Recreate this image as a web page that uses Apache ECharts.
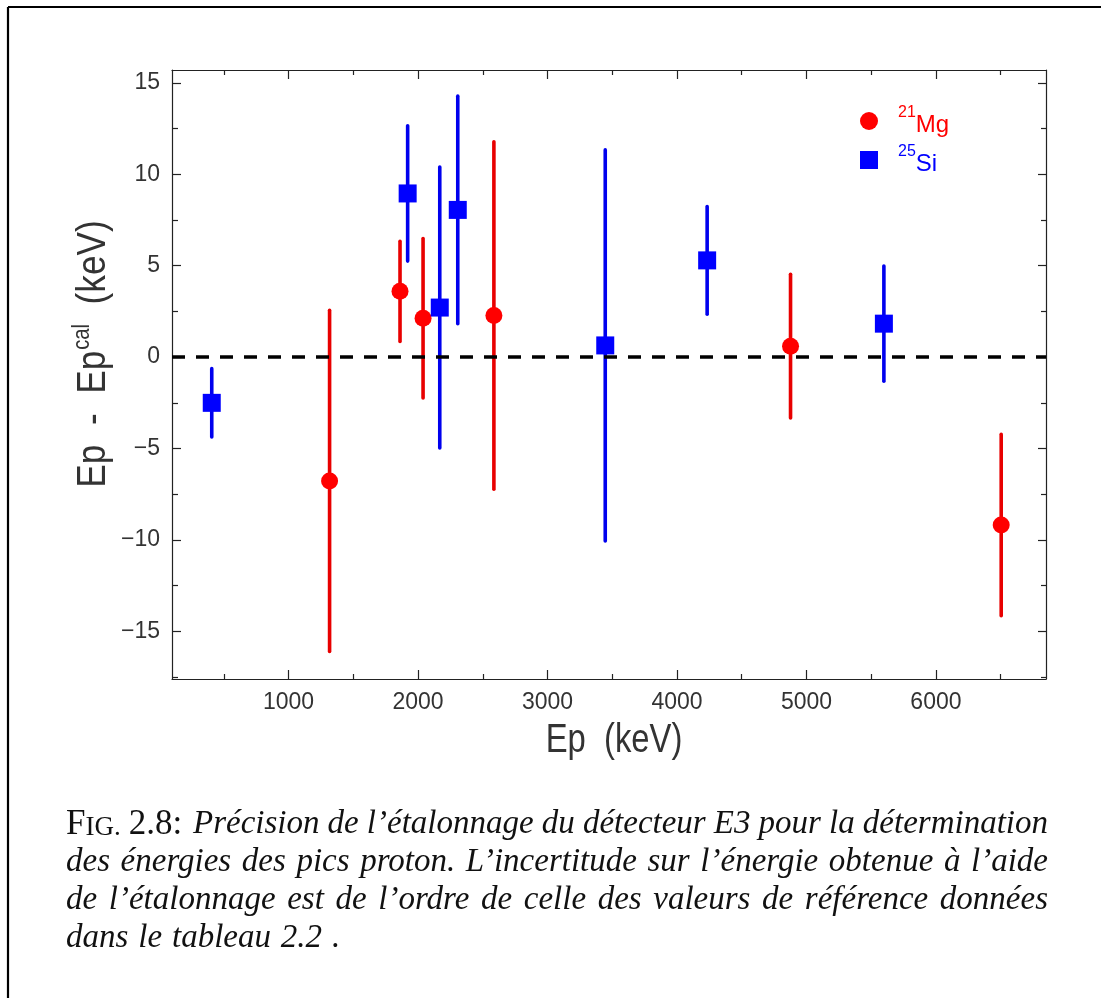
<!DOCTYPE html>
<html>
<head>
<meta charset="utf-8">
<script src="https://cdn.jsdelivr.net/npm/echarts@6/dist/echarts.min.js"></script>
<style>
html,body{margin:0;padding:0;background:#fff;}
#chart{width:1101px;height:998px;}
</style>
</head>
<body>
<div id="chart"></div>
<script>
// ---- data ----
const mgX   = [1317, 1861, 2039, 2586, 4877, 6504];
const mgY   = [-6.77, 3.60, 2.13, 2.28, 0.60, -9.18];
const mgErr = [9.33, 2.74, 4.36, 9.50, 3.93, 4.96];

const siX   = [407, 1920, 2168, 2307, 3446, 4233, 5598];
const siY   = [-2.50, 8.95, 2.71, 8.05, 0.64, 5.29, 1.83];
const siErr = [1.87, 3.70, 7.68, 6.22, 10.69, 2.94, 3.15];

const xMajorTicks = [1000, 2000, 3000, 4000, 5000, 6000];
const xMinorTicks = [500, 1500, 2500, 3500, 4500, 5500, 6500];
const yMajorTicks = [-15, -10, -5, 0, 5, 10, 15];
const yMinorTicks = [-17.5, -12.5, -7.5, -2.5, 2.5, 7.5, 12.5];

const xRange = [100, 6850];
const yRange = [-17.6, 15.7];

const captionPrefix = ['F', 'IG.', '2.8:'];
const captionLines = [
  "Précision de l’étalonnage du détecteur E3 pour la détermination",
  "des énergies des pics proton. L’incertitude sur l’énergie obtenue à l’aide",
  "de l’étalonnage est de l’ordre de celle des valeurs de référence données",
  "dans le tableau 2.2 ."
];

// ---- styling ----
const RED = '#ff0000', RED_BAR = '#e80000';
const BLUE = '#0000ff', BLUE_BAR = '#0000ee';
const AXIS_COL = '#222';
const LABEL_COL = '#333';
const SANS = '"Liberation Sans", Arial, sans-serif';
const SERIF = '"Liberation Serif", "DejaVu Serif", serif';

const chart = echarts.init(document.getElementById('chart'), null, {renderer: 'canvas'});

function errData(xs, ys, es) {
  return xs.map((x, i) => [x, ys[i] - es[i], ys[i] + es[i]]);
}
function ptData(xs, ys) {
  return xs.map((x, i) => [x, ys[i]]);
}
function errRender(color) {
  return function (params, api) {
    const p1 = api.coord([api.value(0), api.value(1)]);
    const p2 = api.coord([api.value(0), api.value(2)]);
    return {
      type: 'line',
      shape: {x1: p1[0], y1: p1[1], x2: p2[0], y2: p2[1]},
      style: {stroke: color, lineWidth: 3.6, lineCap: 'round'}
    };
  };
}

function xAxisDef(pos, ticks, len, withLabel, withLine) {
  return {
    type: 'value', gridIndex: 0, position: pos,
    min: xRange[0], max: xRange[1],
    axisLine: {show: withLine, onZero: false, lineStyle: {color: AXIS_COL, width: 1.2}},
    axisTick: {show: true, inside: true, length: len, customValues: ticks, lineStyle: {color: AXIS_COL, width: 1.2}},
    axisLabel: withLabel ? {show: true, customValues: ticks, margin: 12, fontSize: 23,
      fontFamily: SANS, color: LABEL_COL, formatter: v => String(v)} : {show: false},
    splitLine: {show: false}
  };
}
function yAxisDef(pos, ticks, len, withLabel, withLine) {
  return {
    type: 'value', gridIndex: 0, position: pos,
    min: yRange[0], max: yRange[1],
    axisLine: {show: withLine, onZero: false, lineStyle: {color: AXIS_COL, width: 1.2}},
    axisTick: {show: true, inside: true, length: len, customValues: ticks, lineStyle: {color: AXIS_COL, width: 1.2}},
    axisLabel: withLabel ? {show: true, customValues: ticks, margin: 12, fontSize: 23,
      fontFamily: SANS, color: LABEL_COL,
      formatter: v => String(v).replace('-', '\u2212')} : {show: false},
    splitLine: {show: false}
  };
}

// ---- caption graphics (justified) ----
const mctx = document.createElement('canvas').getContext('2d');
function textW(t, font) { mctx.font = font; return mctx.measureText(t).width; }
const CAP_SIZE = 33;
const fUp = `35px ${SERIF}`;
const fSc = `27px ${SERIF}`;
const fIt = `italic ${CAP_SIZE}px ${SERIF}`;
const capLeft = 66, capRight = 1048, capBase = 841, capStep = 38;
const CAP_COL = '#111';
const graphics = [];
function addText(t, x, y, font) {
  graphics.push({type: 'text', x: x, y: y, silent: true,
    style: {text: t, font: font, fill: CAP_COL, textAlign: 'left', textVerticalAlign: 'bottom'}});
}
(function buildCaption() {
  let x = capLeft;
  addText(captionPrefix[0], x, capBase + 1, fUp); x += textW(captionPrefix[0], fUp);
  addText(captionPrefix[1], x, capBase, fSc); x += textW(captionPrefix[1], fSc) + 8;
  addText(captionPrefix[2], x, capBase + 1, fUp); x += textW(captionPrefix[2], fUp) + 6;
  captionLines.forEach((line, li) => {
    const words = line.split(' ');
    const startX = li === 0 ? Math.max(x, 193) : capLeft;
    const ws = words.map(w => textW(w, fIt));
    const sum = ws.reduce((a, b) => a + b, 0);
    const last = li === captionLines.length - 1;
    const gap = last ? textW(' ', fIt) * 1.2 : (capRight - startX - sum) / (words.length - 1);
    let cx = startX;
    const by = capBase + li * capStep;
    words.forEach((w, i) => { addText(w, cx, by, fIt); cx += ws[i] + gap; });
  });
})();

// page frame
graphics.push({type: 'line', silent: true, shape: {x1: 8, y1: 7, x2: 1101, y2: 7}, style: {stroke: '#000', lineWidth: 2.2}});
graphics.push({type: 'line', silent: true, shape: {x1: 8, y1: 7, x2: 8, y2: 998}, style: {stroke: '#000', lineWidth: 2.2}});

// axis titles (narrow, tall lettering like the original plotting font)
graphics.push({type: 'text', x: 614, y: 741, scaleX: 0.82, silent: true,
  style: {text: 'Ep  (keV)', font: `40px ${SANS}`, fill: LABEL_COL, textAlign: 'center', textVerticalAlign: 'middle'}});
graphics.push({type: 'text', x: 91, y: 354, rotation: Math.PI / 2, scaleX: 0.88, silent: true,
  style: {text: '{m|Ep  -  Ep}{s|cal}{m|  (keV)}', textAlign: 'center', textVerticalAlign: 'middle',
    rich: {
      m: {font: `40px ${SANS}`, fill: LABEL_COL, color: LABEL_COL, lineHeight: 46, verticalAlign: 'bottom'},
      s: {font: `23px ${SANS}`, fill: LABEL_COL, color: LABEL_COL, lineHeight: 46, verticalAlign: 'top', padding: [3, 0, 0, 1]}
    }}});

const option = {
  animation: false,
  backgroundColor: '#fff',
  grid: {left: 172, right: 55, top: 70, bottom: 319, containLabel: false},
  xAxis: [
    xAxisDef('bottom', xMajorTicks, 9, true, true),
    xAxisDef('bottom', xMinorTicks, 5, false, false),
    xAxisDef('top', xMajorTicks, 9, false, true),
    xAxisDef('top', xMinorTicks, 5, false, false)
  ],
  yAxis: [
    yAxisDef('left', yMajorTicks, 9, true, true),
    yAxisDef('left', yMinorTicks, 6, false, false),
    yAxisDef('right', yMajorTicks, 8, false, true),
    yAxisDef('right', yMinorTicks, 5, false, false)
  ],
  legend: {
    orient: 'vertical', left: 855, top: 100, itemWidth: 18, itemHeight: 18, itemGap: 7,
    selectedMode: false,
    data: [{name: '21Mg', icon: 'circle'}, {name: '25Si', icon: 'rect'}],
    formatter: name => name === '21Mg' ? '{sr|21}{mr|Mg}' : '{sb|25}{mb|Si}',
    textStyle: {
      rich: {
        sr: {fontSize: 16, fontFamily: SANS, color: RED, verticalAlign: 'top', lineHeight: 32, padding: [0, 0, 0, 15]},
        mr: {fontSize: 24, fontFamily: SANS, color: RED, verticalAlign: 'bottom', lineHeight: 32},
        sb: {fontSize: 16, fontFamily: SANS, color: BLUE, verticalAlign: 'top', lineHeight: 32, padding: [0, 0, 0, 15]},
        mb: {fontSize: 24, fontFamily: SANS, color: BLUE, verticalAlign: 'bottom', lineHeight: 32}
      }
    }
  },
  series: [
    {type: 'custom', name: 'Mg err', xAxisIndex: 0, yAxisIndex: 0, renderItem: errRender(RED_BAR),
      encode: {x: 0, y: [1, 2]}, data: errData(mgX, mgY, mgErr), z: 2, silent: true},
    {type: 'custom', name: 'Si err', xAxisIndex: 0, yAxisIndex: 0, renderItem: errRender(BLUE_BAR),
      encode: {x: 0, y: [1, 2]}, data: errData(siX, siY, siErr), z: 2, silent: true},
    {type: 'scatter', name: '21Mg', xAxisIndex: 0, yAxisIndex: 0, symbol: 'circle', symbolSize: 17,
      itemStyle: {color: RED, opacity: 1}, data: ptData(mgX, mgY), z: 4,
      markLine: {silent: true, symbol: ['none', 'none'], label: {show: false},
        lineStyle: {color: '#000', width: 3.6, type: [13, 11], opacity: 1},
        emphasis: {disabled: true}, data: [{yAxis: 0}], z: 3}},
    {type: 'scatter', name: '25Si', xAxisIndex: 0, yAxisIndex: 0, symbol: 'rect', symbolSize: 18,
      itemStyle: {color: BLUE, opacity: 1}, data: ptData(siX, siY), z: 4}
  ],
  graphic: graphics
};
chart.setOption(option);
</script>
</body>
</html>
